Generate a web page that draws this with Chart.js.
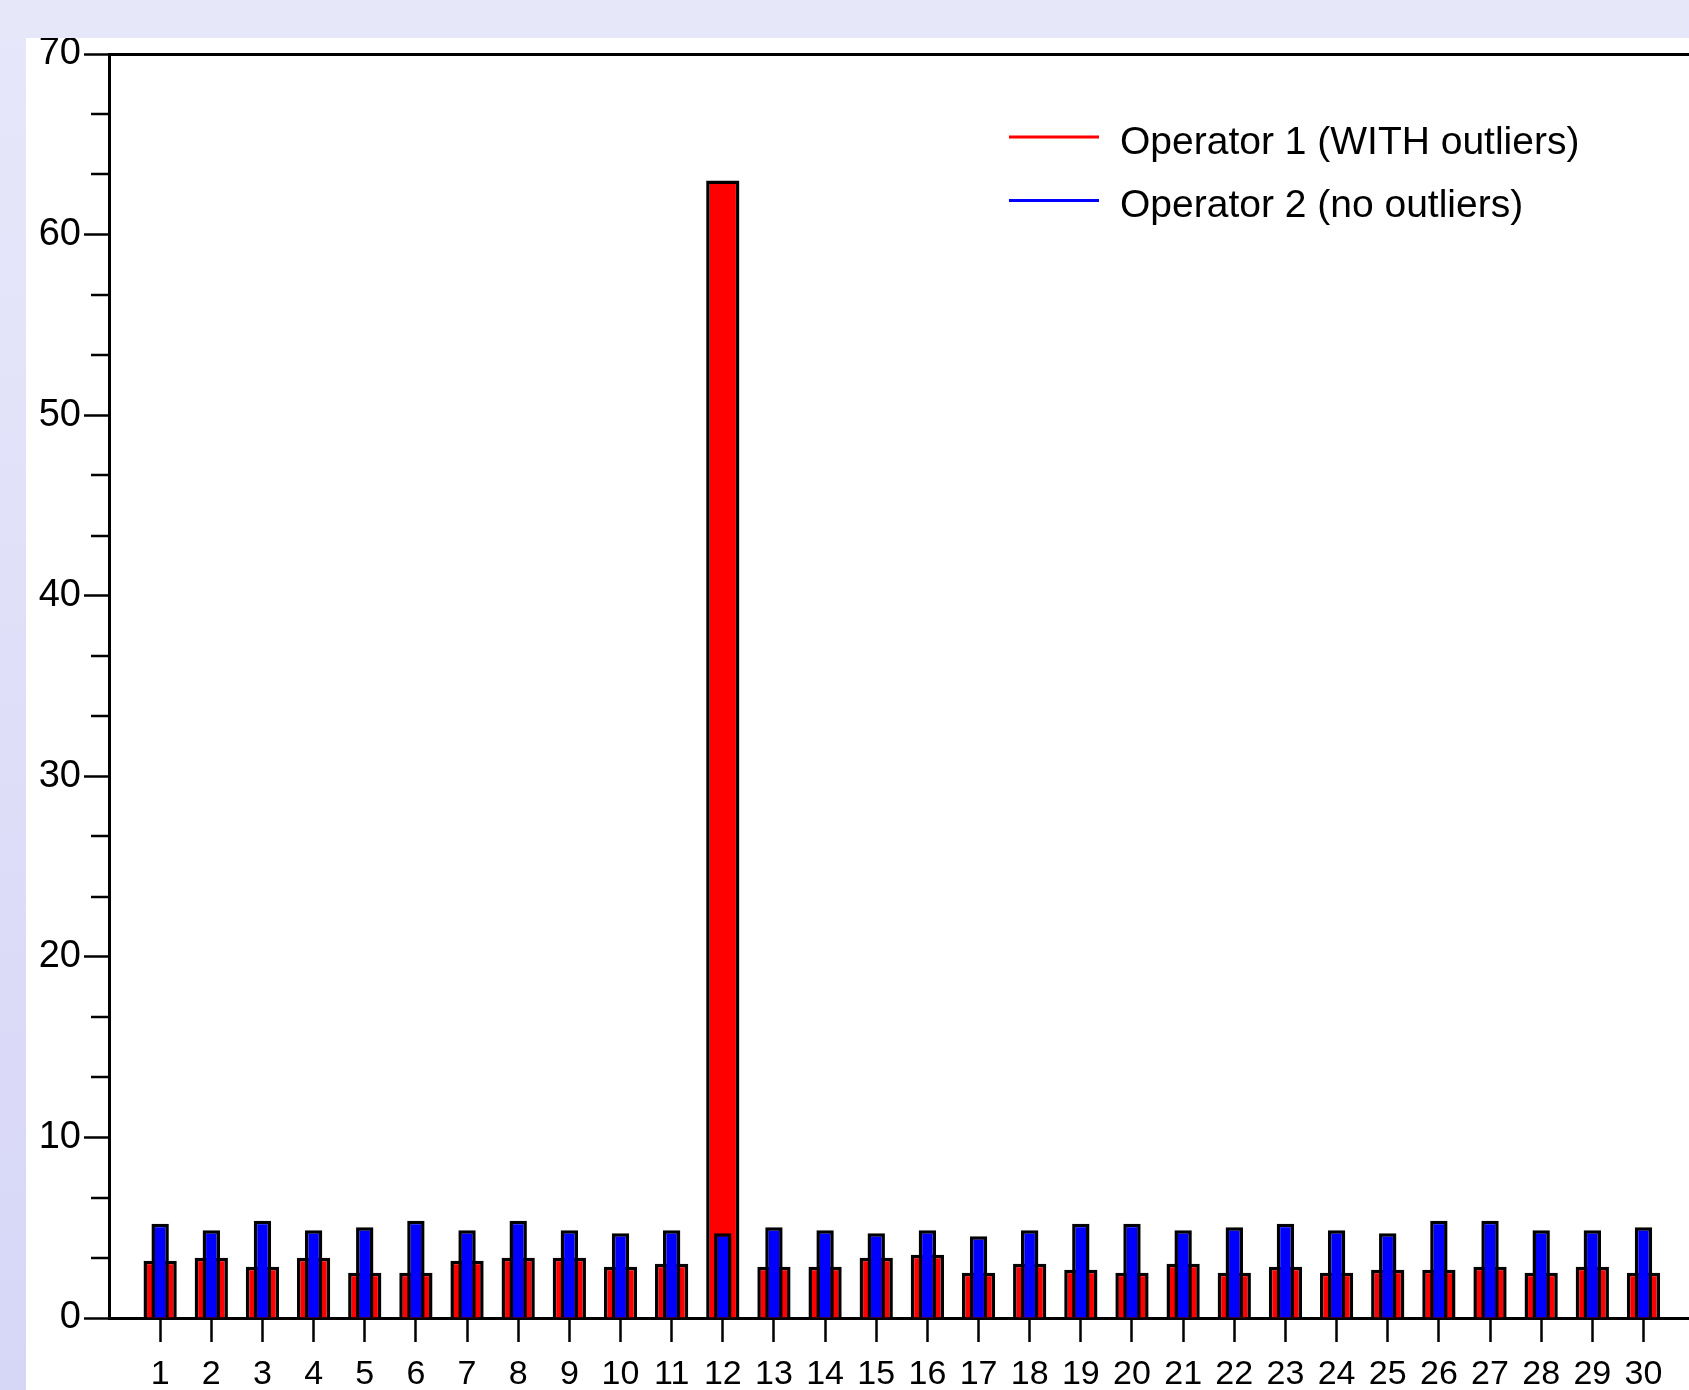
<!DOCTYPE html>
<html><head><meta charset="utf-8">
<script src="https://cdn.jsdelivr.net/npm/chart.js@4"></script>
<style>
html,body{margin:0;padding:0;width:1689px;height:1390px;overflow:hidden;background:linear-gradient(180deg,#e7e7fa 0%,#d6d6f7 100%);}
#wrap{position:absolute;left:26px;top:38px;width:1663px;height:1352px;background:#fff;}
canvas{display:block;}
</style></head><body>
<div id="wrap"><canvas id="c" width="1663" height="1352"></canvas></div>
<script>
const categories = [1,2,3,4,5,6,7,8,9,10,11,12,13,14,15,16,17,18,19,20,21,22,23,24,25,26,27,28,29,30];
const operator1 = [3.17,3.34,2.84,3.34,2.51,2.51,3.17,3.34,3.34,2.84,3.01,63.0,2.84,2.84,3.34,3.5,2.51,3.01,2.67,2.51,3.01,2.51,2.84,2.51,2.67,2.67,2.84,2.51,2.84,2.51];
const operator2 = [5.22,4.86,5.38,4.86,5.03,5.38,4.86,5.38,4.86,4.7,4.86,4.7,5.03,4.86,4.7,4.86,4.53,4.86,5.22,5.22,4.86,5.03,5.22,4.86,4.7,5.38,5.38,4.86,4.86,5.03];
const yTickValues = [0,10,20,30,40,50,60,70];
const seriesLabels = ['Operator 1 (WITH outliers)','Operator 2 (no outliers)'];
const seriesColors = ['#ff0000','#0000ff'];

const FONT = '"Liberation Sans", Arial, sans-serif';
const X_MAX = 30.89;

function zeroPad(s){ s.paddingTop=0; s.paddingBottom=0; s.paddingLeft=0; s.paddingRight=0; }

const minorTicks = {
  id:'minorTicks',
  afterDraw(chart){
    const y = chart.scales.y, ctx = chart.ctx, left = chart.chartArea.left;
    ctx.save();
    ctx.strokeStyle = '#000'; ctx.lineWidth = 2.5;
    for (let i = 0; i < yTickValues.length - 1; i++) {
      for (const f of [1/3, 2/3]) {
        const v = yTickValues[i] + f * (yTickValues[i+1] - yTickValues[i]);
        const py = Math.round(y.getPixelForValue(v));
        ctx.beginPath(); ctx.moveTo(left - 18, py); ctx.lineTo(left, py); ctx.stroke();
      }
    }
    ctx.restore();
  }
};

const lineLegend = {
  id:'lineLegend',
  afterDraw(chart){
    const ctx = chart.ctx;
    ctx.save();
    ctx.font = '39px ' + FONT;
    ctx.textBaseline = 'middle';
    ctx.textAlign = 'left';
    chart.data.datasets.forEach((ds, i) => {
      const ly = 99 + i * 63.5;
      ctx.strokeStyle = ds.backgroundColor; ctx.lineWidth = 3;
      ctx.beginPath(); ctx.moveTo(983, ly); ctx.lineTo(1073, ly); ctx.stroke();
      ctx.fillStyle = '#000';
      ctx.fillText(ds.label, 1094, ly + 6);
    });
    ctx.restore();
  }
};

new Chart(document.getElementById('c'), {
  type: 'bar',
  data: {
    datasets: [
      {
        label: seriesLabels[0],
        data: categories.map((c, i) => ({x: c, y: operator1[i]})),
        backgroundColor: seriesColors[0],
        borderColor: '#000', borderWidth: 3.5,
        grouped: false, categoryPercentage: 1, barPercentage: 0.65,
        order: 2
      },
      {
        label: seriesLabels[1],
        data: categories.map((c, i) => ({x: c, y: operator2[i]})),
        backgroundColor: seriesColors[1],
        borderColor: '#000', borderWidth: 3.5,
        grouped: false, categoryPercentage: 1, barPercentage: 0.34,
        order: 1
      }
    ]
  },
  options: {
    responsive: false, animation: false, devicePixelRatio: 1, events: [],
    layout: { padding: { top: 16, left: 0, right: 0, bottom: 0 } },
    plugins: { legend: { display: false }, tooltip: { enabled: false }, title: { display: false } },
    scales: {
      x: {
        type: 'linear', position: 'bottom', min: 0, max: X_MAX, offset: false,
        afterBuildTicks: s => { s.ticks = categories.map(v => ({value: v})); },
        afterFit: s => { s.height = 72; zeroPad(s); },
        ticks: { autoSkip: false, maxRotation: 0, minRotation: 0, color: '#000', padding: 12,
          font: { family: FONT, size: 34 }, callback: v => String(v) },
        grid: { offset: false, drawOnChartArea: false, drawTicks: true, tickLength: 24, tickColor: '#000', tickWidth: 2.5 },
        border: { display: true, color: '#000', width: 3 }
      },
      x2: {
        type: 'linear', position: 'top', min: 0, max: X_MAX,
        afterFit: s => { s.height = 0; zeroPad(s); },
        ticks: { display: false },
        grid: { display: false, drawTicks: false },
        border: { display: true, color: '#000', width: 3 }
      },
      y: {
        type: 'linear', position: 'left', min: 0, max: 70,
        afterBuildTicks: s => { s.ticks = yTickValues.map(v => ({value: v})); },
        afterFit: s => { s.width = 83; zeroPad(s); },
        ticks: { color: '#000', padding: 3, font: { family: FONT, size: 38 } },
        grid: { drawOnChartArea: false, drawTicks: true, tickLength: 25, tickColor: '#000', tickWidth: 2.5 },
        border: { display: true, color: '#000', width: 3 }
      }
    }
  },
  plugins: [minorTicks, lineLegend]
});
</script>
</body></html>
